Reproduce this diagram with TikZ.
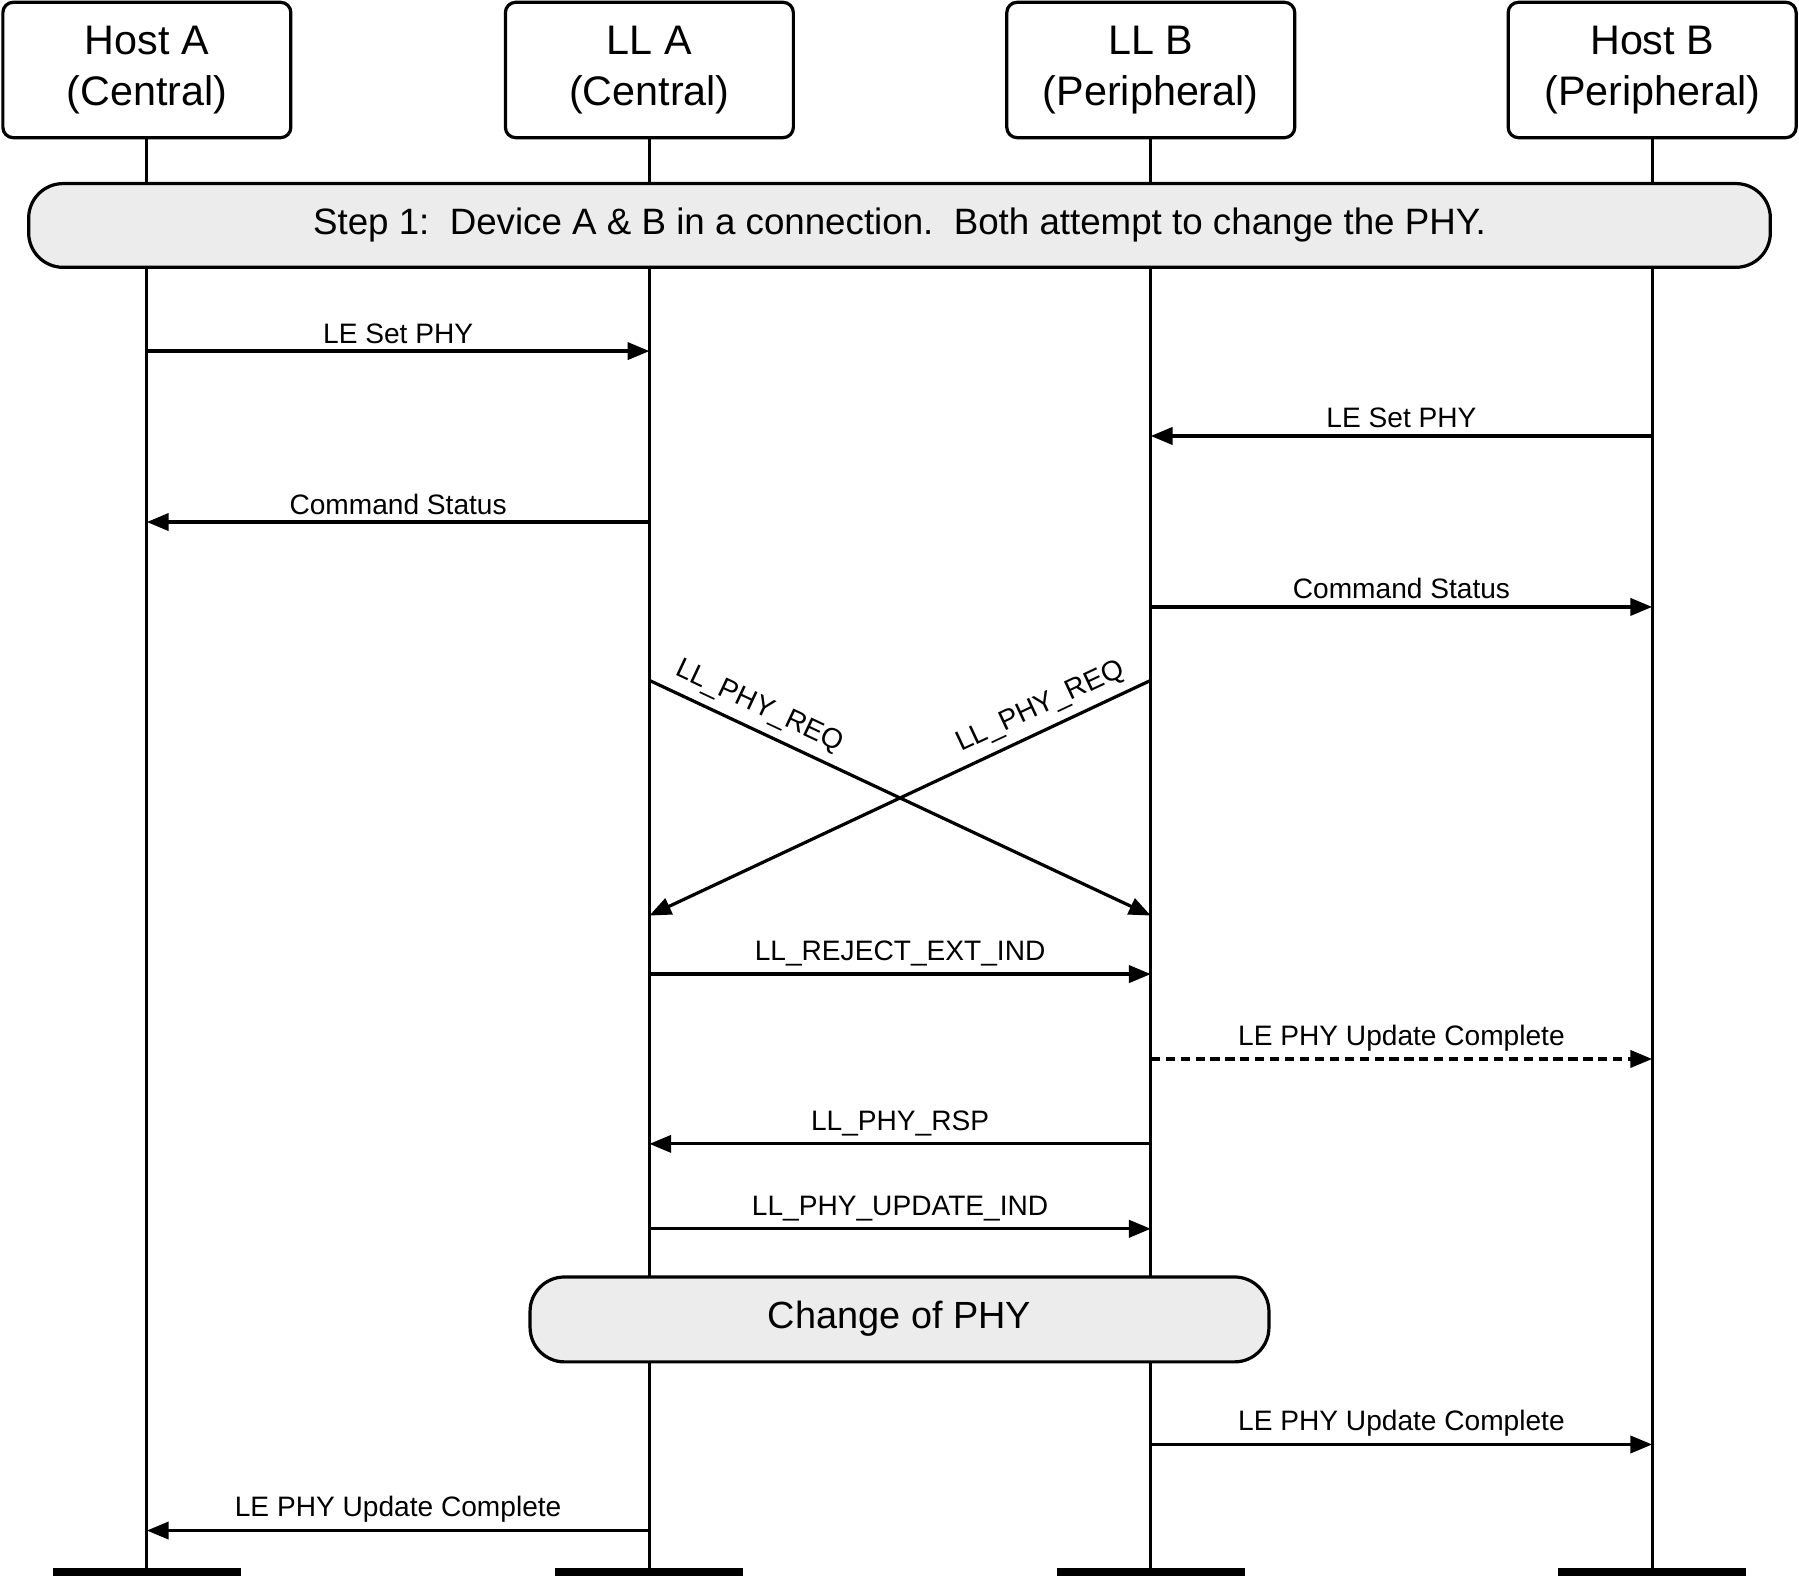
\documentclass[tikz,border=0pt]{standalone}
\usepackage{fontspec}
\setmainfont{Liberation Sans}
\usetikzlibrary{arrows.meta}
\tikzset{
  actor/.style={draw, line width=2.8pt, rounded corners=9pt, minimum width=251pt, minimum height=118pt, align=center, font=\fontsize{36}{44}\selectfont, inner sep=0pt},
  phase/.style={draw, line width=2.8pt, rounded corners=30pt, fill=gray!15},
  life/.style={line width=2.8pt},
  msg/.style={line width=2.8pt, -{Triangle[length=19pt,width=15pt]}},
  lbl/.style={font=\fontsize{24.5}{29}\selectfont, above=2pt}
}
\begin{document}
\begin{tikzpicture}[x=1pt,y=-1pt]
  \useasboundingbox (0,0) rectangle (1568,1375);

  % actors
  \node [actor] (hosta) at (128,61) {Host A\\(Central)};
  \node [actor] (lla) at (566,61) {LL A\\(Central)};
  \node [actor] (llb) at (1003,61) {LL B\\(Peripheral)};
  \node [actor] (hostb) at (1440,61) {Host B\\(Peripheral)};

  % lifelines
  \foreach \n/\x in {hosta/128,lla/566,llb/1003,hostb/1440}{
    \coordinate (\n end) at (\x,1370);
    \draw [life] (\n) -- (\n end);
    \draw [line width=7pt] (\x-82,1370) -- (\x+82,1370);
  }

  % phases
  \draw [phase] (25,160) rectangle (1543,233);
  \node [font=\fontsize{32}{38}\selectfont] (step) at (784,196) {Step 1:\ \ Device A \& B in a connection.\ \ Both attempt to change the PHY.};
  \draw [phase] (462,1113) rectangle (1106,1187);
  \node [font=\fontsize{33}{38}\selectfont] (chg) at (784,1149) {Change of PHY};

  % messages
  \draw [msg] (128,306) -- node [lbl] {LE Set PHY} (566,306);
  \draw [msg] (1440,380) -- node [lbl] {LE Set PHY} (1003,380);
  \draw [msg] (566,455) -- node [lbl] {Command Status} (128,455);
  \draw [msg] (1003,529) -- node [lbl] {Command Status} (1440,529);
  \draw [msg] (566,593) -- node [lbl, pos=0.2, sloped, anchor=south, above=2pt] {LL\_PHY\_REQ} (1003,798);
  \draw [msg] (1003,593) -- node [lbl, pos=0.2, sloped, anchor=south, above=2pt] {LL\_PHY\_REQ} (566,798);
  \draw [msg] (566,849) -- node [lbl] {LL\_REJECT\_EXT\_IND} (1003,849);
  \draw [msg, dash pattern=on 8pt off 5pt] (1003,923) -- node [lbl] {LE PHY Update Complete} (1440,923);
  \draw [msg] (1003,997) -- node [lbl] {LL\_PHY\_RSP} (566,997);
  \draw [msg] (566,1071) -- node [lbl] {LL\_PHY\_UPDATE\_IND} (1003,1071);
  \draw [msg] (1003,1259) -- node [lbl] {LE PHY Update Complete} (1440,1259);
  \draw [msg] (566,1334) -- node [lbl] {LE PHY Update Complete} (128,1334);
\end{tikzpicture}
\end{document}
